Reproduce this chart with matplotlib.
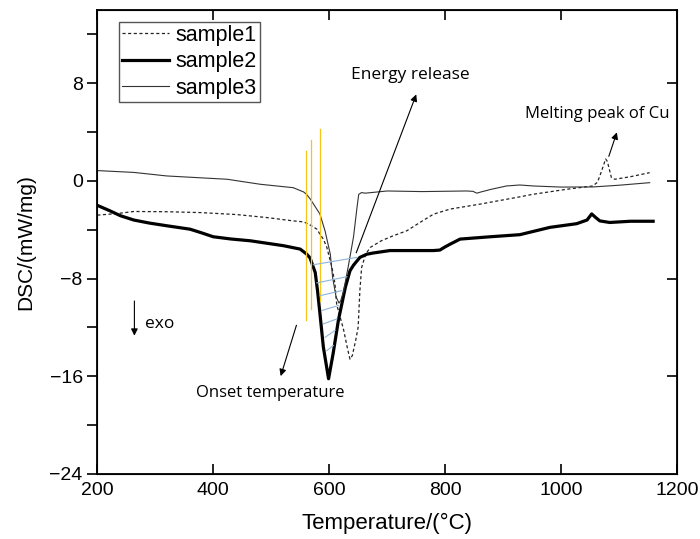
import matplotlib
matplotlib.use("Agg")
import matplotlib.pyplot as plt

# ---- data ----
s1_x = [200, 234, 263, 320, 378, 440, 493, 538, 556, 567, 579, 584, 590, 596, 605, 610, 613,
        625, 632, 636, 640, 646, 650, 653, 656, 663, 671, 690, 710, 734, 760, 780, 809, 860,
        929, 952, 1010, 1055, 1063, 1070, 1077, 1080, 1087, 1093, 1120, 1153]
s1_y = [-2.8, -2.67, -2.5, -2.52, -2.59, -2.75, -3.0, -3.27, -3.35, -3.6, -3.95, -4.35, -4.76,
        -5.44, -7.1, -8.4, -10.1, -12.2, -13.8, -14.6, -14.3, -13.0, -12.0, -9.0, -7.1, -6.0,
        -5.44, -4.9, -4.5, -4.08, -3.3, -2.72, -2.3, -1.9, -1.3, -1.09, -0.68, -0.41, -0.1,
        0.8, 1.8, 1.6, 0.27, 0.14, 0.35, 0.68]

s2_x = [200, 205, 222, 240, 263, 290, 320, 360, 380, 400, 430, 464, 521, 550, 561, 567, 576,
        580, 584, 590, 599, 607, 616, 628, 636, 642, 653, 665, 676, 705, 780, 791, 800, 809,
        826, 878, 929, 981, 1027, 1045, 1053, 1060, 1067, 1084, 1120, 1159]
s2_y = [-2.0, -2.1, -2.45, -2.85, -3.2, -3.45, -3.67, -3.95, -4.25, -4.57, -4.75, -4.9, -5.3,
        -5.58, -5.98, -6.3, -7.5, -9.0, -10.8, -13.6, -16.2, -14.1, -11.4, -8.7, -7.35, -6.9,
        -6.26, -6.0, -5.9, -5.7, -5.7, -5.66, -5.4, -5.17, -4.76, -4.57, -4.4, -3.8, -3.5,
        -3.2, -2.7, -3.0, -3.27, -3.4, -3.3, -3.3]

s3_x = [200, 263, 320, 424, 481, 538, 556, 561, 567, 584, 593, 602, 606, 612, 617, 620, 625,
        633, 642, 648, 651, 656, 662, 673, 700, 760, 837, 848, 855, 862, 880, 906, 929, 952,
        1000, 1055, 1100, 1153]
s3_y = [0.85, 0.7, 0.41, 0.14, -0.27, -0.55, -0.9, -1.1, -1.45, -2.7, -4.1, -6.0, -7.9, -9.5,
        -10.0, -9.8, -9.0, -7.0, -4.6, -2.2, -1.1, -0.95, -1.0, -0.95, -0.82, -0.87, -0.82,
        -0.85, -1.0, -0.9, -0.68, -0.41, -0.33, -0.41, -0.5, -0.49, -0.35, -0.14]

labels = ["sample1", "sample2", "sample3"]

# onset marker lines (x, y_top, y_bottom)
onset_x = [560, 568, 585]
onset_top = [2.45, 3.35, 4.24]
onset_bot = [-11.35, -10.45, -9.8]

# energy-release hatch segments
hatch_x0 = [572.9, 578.8, 584.5, 587.4, 590.2, 593.1, 596.0]
hatch_y0 = [-6.86, -8.35, -9.39, -10.61, -11.7, -12.8, -13.9]
hatch_x1 = [647.8, 630.5, 621.9, 616.0, 613.3, 610.3, 607.4]
hatch_y1 = [-6.26, -7.84, -8.98, -10.2, -11.3, -12.24, -13.47]

x_ticks = [200, 400, 600, 800, 1000, 1200]
y_major = [8, 0, -8, -16, -24]
y_minor = [12, 4, -4, -12, -20]

# ---- figure ----
plt.rcParams['font.family'] = ['Liberation Sans', 'DejaVu Sans']
fig = plt.figure(figsize=(7.0, 5.39), dpi=100)
ax = fig.add_axes([0.139, 0.1206, 0.828, 0.8608])

ax.plot(s1_x, s1_y, color='#222222', lw=0.9, dashes=(2.5, 2.0), label=labels[0])
ax.plot(s2_x, s2_y, color='black', lw=2.3, label=labels[1])
ax.plot(s3_x, s3_y, color='#333333', lw=0.8, label=labels[2])

for x, yt, yb in zip(onset_x, onset_top, onset_bot):
    ax.plot([x, x], [yb, yt], color='#F5C518', lw=0.9)
for a, b, c, d in zip(hatch_x0, hatch_y0, hatch_x1, hatch_y1):
    ax.plot([a, c], [b, d], color='#8FB4D8', lw=0.8)

ax.set_xlim(200, 1200)
ax.set_ylim(-24, 14)
ax.set_xticks(x_ticks)
ax.set_yticks(y_major)
ax.set_yticks(y_minor, minor=True)
ax.tick_params(axis='x', direction='in', top=True, length=7, width=1.2, labelsize=14, pad=6)
ax.tick_params(axis='y', which='both', direction='out', length=7, width=1.2, labelsize=14)
for sp in ax.spines.values():
    sp.set_linewidth(1.3)

ax2 = ax.twinx()
ax2.set_ylim(-24, 14)
ax2.set_yticks([8, 0, -8, -16])
ax2.tick_params(axis='y', direction='in', length=7, width=1.2, labelright=False)

ax.set_xlabel('Temperature/(°C)', fontsize=16, labelpad=10)
ax.set_ylabel('DSC/(mW/mg)', fontsize=15, labelpad=10)

leg = ax.legend(loc='upper left', bbox_to_anchor=(0.037, 0.975), fontsize=15.5,
                handlelength=2.2, handletextpad=0.3, borderpad=0.15, labelspacing=0.25,
                fancybox=False, framealpha=1, edgecolor='#555555', borderaxespad=0)
leg.get_frame().set_linewidth(1.0)

afont = dict(family=['Open Sans', 'DejaVu Sans'], color='black')
arrow = dict(arrowstyle='-|>', color='black', lw=0.8, mutation_scale=10)
ax.annotate('', xy=(752, 7.3), xytext=(645, -6.1), arrowprops=arrow)
ax.text(740, 8.7, 'Energy release', ha='center', va='center', fontsize=12.5, **afont)
ax.annotate('', xy=(1098, 4.2), xytext=(1081, 1.8), arrowprops=arrow)
ax.text(1063, 5.5, 'Melting peak of Cu', ha='center', va='center', fontsize=12, **afont)
ax.annotate('', xy=(515, -16.2), xytext=(545, -11.6), arrowprops=arrow)
ax.text(498, -17.4, 'Onset temperature', ha='center', va='center', fontsize=12, **afont)
ax.annotate('', xy=(264, -12.9), xytext=(264, -9.6), arrowprops=arrow)
ax.text(283, -11.7, 'exo', ha='left', va='center', fontsize=12.5, **afont)

fig.savefig('out.png', dpi=100)
